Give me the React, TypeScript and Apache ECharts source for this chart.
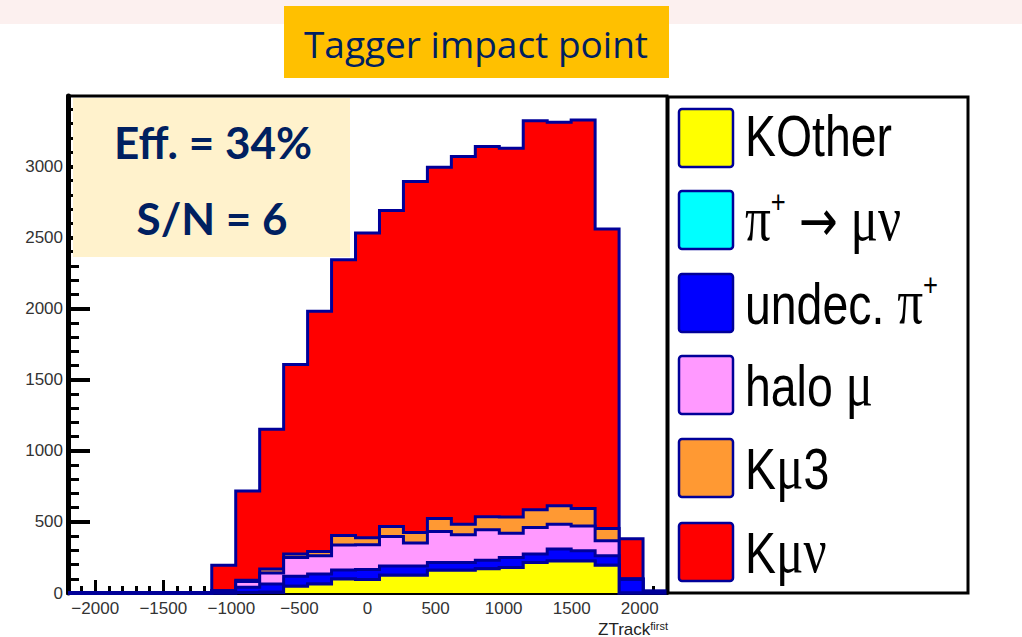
import React, { useEffect, useRef } from "react";
import * as echarts from "echarts";

// ---------- data ----------
const binEdges = [
  -2200, -2024, -1848, -1672, -1496, -1320, -1144, -968, -792, -616, -440, -264, -88,
  88, 264, 440, 616, 792, 968, 1144, 1320, 1496, 1672, 1848, 2024, 2200,
];

const kOther = [0, 0, 0, 0, 0, 0, 0, 3, 5, 47, 63, 98, 95, 125, 125, 160, 160, 170, 180, 215, 225, 225, 196, 0, 0];
const piMuNu = [0, 0, 0, 0, 0, 0, 0, 0, 0, 0, 0, 0, 0, 0, 0, 0, 0, 0, 0, 0, 0, 0, 0, 0, 0];
const undecPi = [0, 0, 0, 0, 0, 0, 10, 37, 58, 70, 70, 63, 70, 65, 65, 55, 55, 60, 70, 59, 84, 72, 66, 95, 12];
const haloMu = [0, 0, 0, 0, 0, 0, 5, 40, 77, 133, 129, 176, 174, 208, 161, 218, 194, 214, 171, 187, 175, 175, 105, 3, 0];
const kMu3 = [0, 0, 0, 0, 0, 0, 0, 10, 28, 24, 30, 68, 49, 70, 75, 91, 75, 92, 114, 124, 129, 122, 87, 2, 0];
const kMuNu = [0, 0, 0, 0, 0, 0, 180, 628, 983, 1333, 1689, 1939, 2143, 2222, 2467, 2470, 2585, 2603, 2593, 2736, 2697, 2732, 2105, 282, 0];

const xTickValues = [-2000, -1500, -1000, -500, 0, 500, 1000, 1500, 2000];
const yTickValues = [0, 500, 1000, 1500, 2000, 2500, 3000];

const seriesNames = ["KOther", "π+ → μν", "undec. π+", "halo μ", "Kμ3", "Kμν"];
const seriesColors = ["#FFFF00", "#00FFFF", "#0000FF", "#FF99FF", "#FF9933", "#FF0000"];
const components = [kOther, piMuNu, undecPi, haloMu, kMu3, kMuNu];

// rich-text versions of the legend labels
const legendRich = [
  "{a|KOther}",
  "{g|π}{s|+}{a| }{r|→}{a| }{g|μν}",
  "{a|undec. }{g|π}{s|+}",
  "{a|halo }{g|μ}",
  "{a|K}{g|μ}{a|3}",
  "{a|K}{g|μν}",
];

// minor tick positions
const xMinor: number[] = [];
for (let v = -2100; v <= 2100; v += 100) if (v % 500 !== 0) xMinor.push(v);
const yMinor: number[] = [];
for (let v = 100; v <= 3400; v += 100) if (v % 500 !== 0) yMinor.push(v);

const OUTLINE = "#000099";

export default function App() {
  const ref = useRef<HTMLDivElement>(null);

  useEffect(() => {
    if (!ref.current) return;
    const chart = echarts.init(ref.current, undefined, { renderer: "svg" });

    // cumulative stack levels
    const cum: number[][] = [];
    components.forEach((arr, k) => {
      cum.push(arr.map((v, i) => v + (k > 0 ? cum[k - 1][i] : 0)));
    });

    const makeRender = (levels: number[], color: string) => (_params: any, api: any) => {
      const base = api.coord([binEdges[0], 0]);
      const last = api.coord([binEdges[binEdges.length - 1], 0]);
      const step: number[][] = [];
      levels.forEach((v, i) => {
        step.push(api.coord([binEdges[i], v]));
        step.push(api.coord([binEdges[i + 1], v]));
      });
      return {
        type: "group",
        children: [
          { type: "polygon", shape: { points: [base, ...step, last] }, style: { fill: color, stroke: null } },
          {
            type: "polyline",
            shape: { points: step },
            style: { fill: null, stroke: OUTLINE, lineWidth: 3, lineJoin: "miter" },
          },
        ],
      };
    };

    const series: any[] = [];
    for (let k = components.length - 1; k >= 0; k--) {
      series.push({
        type: "custom",
        name: seriesNames[k],
        xAxisIndex: 0,
        yAxisIndex: 0,
        data: [[binEdges[0], 0]],
        renderItem: makeRender(cum[k], seriesColors[k]),
        silent: true,
        clip: false,
      });
    }

    const legendTop = [109, 191, 274, 356, 439, 523];
    const legendItems: any[] = [];
    seriesNames.forEach((_n, i) => {
      legendItems.push({
        type: "rect",
        z: 110,
        silent: true,
        shape: { x: 679, y: legendTop[i], width: 54, height: 58, r: 3 },
        style: { fill: seriesColors[i], stroke: OUTLINE, lineWidth: 2.5 },
      });
      legendItems.push({
        type: "text",
        z: 110,
        silent: true,
        x: 745,
        y: legendTop[i] + 27,
        scaleX: 0.8,
        style: {
          text: legendRich[i],
          fill: "#000",
          align: "left",
          textAlign: "left",
          verticalAlign: "middle",
          textVerticalAlign: "middle",
          rich: {
            a: { fontSize: 58, fontFamily: "Liberation Sans", fill: "#000", verticalAlign: "bottom" },
            g: { fontSize: 64, fontFamily: "Liberation Serif", fill: "#000", verticalAlign: "bottom" },
            r: { fontSize: 58, fontFamily: "DejaVu Sans", fill: "#000", verticalAlign: "bottom" },
            s: { fontSize: 32, fontFamily: "Liberation Sans", fill: "#000", verticalAlign: "top" },
          },
        },
      });
    });

    const axisFont = { fontSize: 17, fontFamily: "Liberation Sans", color: "#333" };

    const option: any = {
      animation: false,
      backgroundColor: "#fff",
      grid: {
        left: 68,
        right: 355,
        top: 96,
        bottom: 44,
        show: true,
        borderColor: "#000",
        borderWidth: 3,
        backgroundColor: "rgba(0,0,0,0)",
      },
      xAxis: [
        {
          type: "value",
          min: -2200,
          max: 2200,
          position: "bottom",
          axisLine: { show: true, onZero: false, lineStyle: { color: "#000", width: 4 } },
          axisTick: {
            show: true,
            inside: true,
            length: 13,
            customValues: xTickValues,
            lineStyle: { color: "#000", width: 3 },
          },
          axisLabel: {
            show: true,
            customValues: xTickValues,
            margin: 7,
            ...axisFont,
            formatter: (v: number) => (v < 0 ? "\u2212" + Math.abs(v) : String(v)),
          },
          splitLine: { show: false },
        },
        {
          type: "value",
          min: -2200,
          max: 2200,
          position: "bottom",
          axisLine: { show: false, onZero: false },
          axisTick: {
            show: true,
            inside: true,
            length: 7,
            customValues: xMinor,
            lineStyle: { color: "#000", width: 3 },
          },
          axisLabel: { show: false },
          splitLine: { show: false },
        },
      ],
      yAxis: [
        {
          type: "value",
          min: 0,
          max: 3495,
          position: "left",
          axisLine: { show: true, onZero: false, lineStyle: { color: "#000", width: 5 } },
          axisTick: {
            show: true,
            inside: true,
            length: 22,
            customValues: yTickValues,
            lineStyle: { color: "#000", width: 4 },
          },
          axisLabel: {
            show: true,
            customValues: yTickValues,
            margin: 5,
            ...axisFont,
            formatter: (v: number) => String(v),
          },
          splitLine: { show: false },
        },
        {
          type: "value",
          min: 0,
          max: 3495,
          position: "left",
          axisLine: { show: false, onZero: false },
          axisTick: {
            show: true,
            inside: true,
            length: 11,
            customValues: yMinor,
            lineStyle: { color: "#000", width: 3 },
          },
          axisLabel: { show: false },
          splitLine: { show: false },
        },
      ],
      series,
      graphic: [
        // pale band at the top of the slide
        { type: "rect", z: 1, silent: true, shape: { x: 0, y: 0, width: 1022, height: 24 }, style: { fill: "#FCF0EF" } },
        // title box
        { type: "rect", z: 100, silent: true, shape: { x: 284, y: 6, width: 385, height: 72 }, style: { fill: "#FFC000" } },
        {
          type: "text",
          z: 101,
          silent: true,
          x: 476,
          y: 43,
          style: {
            text: "Tagger impact point",
            fill: "#002060",
            fontSize: 37,
            fontFamily: "Open Sans",
            align: "center",
            textAlign: "center",
            verticalAlign: "middle",
            textVerticalAlign: "middle",
          },
        },
        // efficiency box
        { type: "rect", z: 100, silent: true, shape: { x: 73, y: 98, width: 277, height: 159 }, style: { fill: "#FFF2CC" } },
        {
          type: "text",
          z: 101,
          silent: true,
          x: 213,
          y: 142,
          style: {
            text: "Eff. = 34%",
            fill: "#002060",
            fontSize: 44,
            fontWeight: "bold",
            fontFamily: "Lato",
            align: "center",
            textAlign: "center",
            verticalAlign: "middle",
            textVerticalAlign: "middle",
          },
        },
        {
          type: "text",
          z: 101,
          silent: true,
          x: 212,
          y: 218,
          style: {
            text: "S/N = 6",
            fill: "#002060",
            fontSize: 44,
            fontWeight: "bold",
            fontFamily: "Lato",
            align: "center",
            textAlign: "center",
            verticalAlign: "middle",
            textVerticalAlign: "middle",
          },
        },
        // legend frame
        {
          type: "rect",
          z: 105,
          silent: true,
          shape: { x: 668, y: 97, width: 300, height: 496 },
          style: { fill: "#fff", stroke: "#000", lineWidth: 3 },
        },
        ...legendItems,
        // x-axis title
        {
          type: "text",
          z: 101,
          silent: true,
          x: 668,
          y: 629,
          style: {
            text: "{a|ZTrack}{s|first}",
            fill: "#222",
            align: "right",
            textAlign: "right",
            verticalAlign: "middle",
            textVerticalAlign: "middle",
            rich: {
              a: { fontSize: 17, fontFamily: "Liberation Sans", fill: "#222", verticalAlign: "bottom" },
              s: { fontSize: 11, fontFamily: "Liberation Sans", fill: "#222", verticalAlign: "top" },
            },
          },
        },
      ],
    };

    chart.setOption(option);
    return () => chart.dispose();
  }, []);

  return (
    <div
      ref={ref}
      style={{ position: "fixed", left: 0, top: 0, width: 1022, height: 637, background: "#fff" }}
    />
  );
}
